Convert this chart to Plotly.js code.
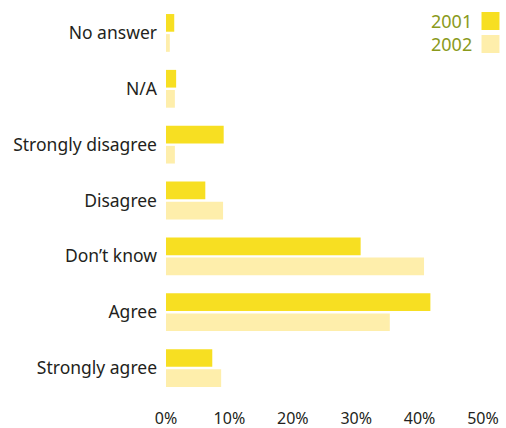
<!DOCTYPE html>
<html>
<head>
<meta charset="utf-8">
<script src="https://cdn.plot.ly/plotly-3.0.1.min.js"></script>
<style>html,body{margin:0;padding:0;background:#fff}#chart{width:506px;height:428px}</style>
</head>
<body>
<div id="chart"></div>
<script>
var categories = ["No answer", "N/A", "Strongly disagree", "Disagree", "Don\u2019t know", "Agree", "Strongly agree"];
var values2001 = [1.3, 1.6, 9.1, 6.2, 30.7, 41.7, 7.3];
var values2002 = [0.6, 1.4, 1.4, 9.0, 40.7, 35.3, 8.7];
var seriesNames = ["2001", "2002"];
var seriesColors = ["#F7DF22", "#FEEEAB"];
var tickValues = [0, 10, 20, 30, 40, 50];
var tickLabels = ["0%", "10%", "20%", "30%", "40%", "50%"];

var FONT = "'Noto Sans', 'Open Sans', sans-serif";
var data = [values2001, values2002].map(function (vals, i) {
  return {
    type: "bar", orientation: "h", name: seriesNames[i],
    y: categories, x: vals,
    marker: {color: seriesColors[i]},
    hoverinfo: "x+y+name"
  };
});

var annotations = [], shapes = [];
var legendY = [21, 44];
seriesNames.forEach(function (n, i) {
  var yPaper = 1 - (legendY[i] - 5) / 391;
  annotations.push({
    xref: "paper", yref: "paper", x: 1 + (474 - 483.5) / 317.5, y: yPaper, xanchor: "right", yanchor: "middle",
    text: n, showarrow: false, font: {family: FONT, size: 18, color: "#8A9A1C"}
  });
  shapes.push({
    type: "rect", xref: "paper", yref: "paper",
    x0: 1.0 + (482 - 483.5) / 317.5, x1: 1.0 + (500 - 483.5) / 317.5,
    y0: yPaper - 9 / 391, y1: yPaper + 9 / 391,
    fillcolor: seriesColors[i], line: {width: 0}
  });
});

var layout = {
  width: 506, height: 428,
  margin: {l: 166, r: 22.5, t: 5, b: 32, pad: 0},
  paper_bgcolor: "#fff", plot_bgcolor: "#fff",
  barmode: "group", bargap: 0.28, bargroupgap: 0.12,
  showlegend: false,
  font: {family: FONT, size: 16, color: "#231F20"},
  xaxis: {
    range: [0, 50], tickvals: tickValues, ticktext: tickLabels,
    showgrid: false, zeroline: false, showline: false, ticks: "",
    ticklabelstandoff: 11, fixedrange: true,
    tickfont: {family: FONT, size: 16, color: "#231F20"}
  },
  yaxis: {
    autorange: "reversed", type: "category",
    showgrid: false, zeroline: false, showline: false, ticks: "",
    ticklabelstandoff: 8, fixedrange: true,
    tickfont: {family: FONT, size: 17.5, color: "#231F20"}
  },
  annotations: annotations, shapes: shapes
};

Plotly.newPlot("chart", data, layout, {displayModeBar: false, staticPlot: true});
</script>
</body>
</html>
